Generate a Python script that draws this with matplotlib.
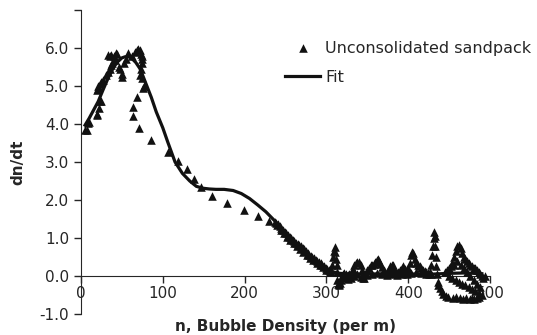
import matplotlib.pyplot as plt

obs_n = [5, 7, 9, 10, 19, 20, 22, 23, 25, 19, 21, 21, 23, 25, 27, 30, 33, 35, 37, 38,
         33, 35, 37, 40, 43, 44, 41, 46, 48, 50, 50, 52, 55, 58, 62, 66, 68, 70, 72, 73,
         74, 75, 74, 73, 72, 74, 76, 77, 69, 64, 64, 71, 86, 106, 118, 129, 138, 147, 160, 179,
         199, 216, 230,
         237, 239, 241, 243, 245, 247, 249, 251, 253, 255, 257, 259, 261, 263, 265, 267, 269, 271,
         273, 275, 277, 279, 281, 283, 285, 287, 289, 291, 293, 295, 297, 299, 301, 303, 305,
         240, 244, 248, 252, 256, 260, 264, 268, 272, 276, 280, 284, 288, 292, 296, 300, 304,
         306, 307, 308, 309, 310, 311, 312, 313, 313, 313, 314, 315, 316, 317, 318, 319, 320, 322,
         324, 326, 328, 330, 332, 334, 336, 338, 340, 342, 343, 344, 345, 346, 348, 350, 352, 354,
         356, 358, 360, 362, 363, 364, 366, 368, 370, 372, 374, 376, 378, 380, 381, 382, 384, 386,
         388, 390, 392, 394, 396, 398, 400, 402, 404, 405, 406, 408, 410, 412, 414, 416, 418, 420,
         422, 424, 426, 427, 428, 429, 430, 431, 432, 433, 433, 434, 434, 435, 436, 437, 439, 441,
         443, 446, 449, 455, 459, 463, 467, 471, 475, 478, 481, 484, 487, 490,
         445, 448, 450, 452, 454, 456, 458, 460, 462, 464, 466, 468, 470, 472, 474, 476, 478, 480,
         482, 484, 486, 488, 490, 492, 494,
         450, 454, 458, 462, 466, 470, 474, 478, 482, 486,
         456, 460, 464, 468, 472, 476, 480, 484, 488,
         322, 326, 330, 334, 338, 342, 350, 356, 362, 368, 374, 380, 386, 392, 398, 404, 410, 416,
         422, 428]
obs_v = [3.84, 3.84, 4.02, 4.05, 4.24, 4.26, 4.42, 4.6, 4.6, 4.9, 4.95, 5.0, 5.05, 5.1, 5.16, 5.3,
         5.38, 5.45, 5.55, 5.6,
         5.82, 5.78, 5.82, 5.8, 5.86, 5.84, 5.68, 5.5, 5.46, 5.25, 5.32, 5.6, 5.7, 5.86, 5.8, 5.9,
         5.95, 5.97, 5.95, 5.85,
         5.8, 5.7, 5.6, 5.46, 5.3, 5.2, 4.94, 5.0, 4.72, 4.46, 4.2, 3.89, 3.58, 3.27, 3.03, 2.81,
         2.54, 2.33, 2.1, 1.91,
         1.74, 1.57, 1.45,
         1.43, 1.40, 1.36, 1.31, 1.26, 1.22, 1.17, 1.13, 1.08, 1.03, 0.99, 0.95, 0.91, 0.88, 0.85,
         0.82, 0.79, 0.74,
         0.70, 0.65, 0.61, 0.56, 0.53, 0.50, 0.47, 0.43, 0.40, 0.37, 0.33, 0.30, 0.26, 0.22, 0.18,
         0.15, 0.12,
         1.33, 1.22, 1.12, 1.03, 0.94, 0.86, 0.79, 0.72, 0.64, 0.56, 0.48, 0.41, 0.35, 0.29, 0.23,
         0.16, 0.10,
         0.15, 0.3, 0.5, 0.65, 0.77, 0.62, 0.45, 0.3, 0.1, -0.1, -0.2, -0.25, -0.22, -0.18, -0.1,
         0.0, 0.05, 0.08,
         0.04, 0.02, 0.05, 0.08, 0.18, 0.28, 0.33, 0.36, 0.38, 0.3, 0.15, 0.02, -0.05, -0.04, 0.05,
         0.15, 0.22, 0.28,
         0.3, 0.32, 0.36, 0.42, 0.44, 0.4, 0.32, 0.24, 0.15, 0.08, 0.1, 0.18, 0.25, 0.28, 0.29, 0.22,
         0.12, 0.08,
         0.1, 0.15, 0.2, 0.25, 0.18, 0.12, 0.2, 0.35, 0.55, 0.64, 0.6, 0.45, 0.35, 0.3, 0.25, 0.2,
         0.15, 0.12,
         0.1, 0.08, 0.05, 0.1, 0.3, 0.55, 0.8, 1.0, 1.17, 1.05, 0.8, 0.5, 0.25, 0.05, -0.15, -0.25,
         -0.32, -0.4,
         -0.47, -0.52, -0.55, -0.58, -0.55, -0.58, -0.6, -0.57, -0.6, -0.58, -0.6, -0.57, -0.55, -0.5,
         0.1, 0.15, 0.2, 0.25, 0.35, 0.5, 0.65, 0.78, 0.82, 0.75, 0.6, 0.5, 0.45, 0.4, 0.35, 0.3,
         0.25, 0.22,
         0.2, 0.15, 0.1, 0.05, 0.0, -0.05, 0.0,
         0.0, -0.05, -0.1, -0.15, -0.2, -0.25, -0.3, -0.35, -0.4, -0.45,
         0.3, 0.4, 0.3, 0.2, 0.1, 0.0, -0.1, -0.2, -0.3,
         -0.05, -0.08, -0.05, 0.0, 0.05, -0.02, 0.02, 0.05, 0.08, 0.05, 0.02, 0.05, 0.03, 0.05,
         0.04, 0.08, 0.1, 0.08,
         0.04, 0.05]

# fitted curve
fit_n = [5, 10, 15, 21, 27, 33, 40, 45, 50, 54, 58, 62, 67, 72, 76, 80, 86, 92, 100, 106,
         115, 124, 133, 141, 149, 157, 165, 175, 186, 196, 206, 216, 226, 236, 246, 256, 266,
         276, 286, 296, 306, 316, 330, 350, 370, 390, 410, 430, 450, 470, 490]
fit_v = [3.97, 4.15, 4.35, 4.59, 4.9, 5.2, 5.5, 5.64, 5.74, 5.77, 5.77, 5.73, 5.62, 5.46, 5.25,
         5.03, 4.7, 4.32, 3.9, 3.53, 3.0, 2.7, 2.5, 2.36, 2.31, 2.29, 2.28, 2.28, 2.25, 2.17, 2.04,
         1.87, 1.69, 1.47, 1.22, 0.98, 0.76, 0.56, 0.38, 0.23, 0.12, 0.07, 0.05, 0.05, 0.06, 0.06,
         0.05, 0.05, 0.07, 0.08, 0.06]

y_ticks = [-1, 0, 1, 2, 3, 4, 5, 6, 7]
y_labels = ['-1.0', '0.0', '1.0', '2.0', '3.0', '4.0', '5.0', '6.0', '']
x_ticks = [0, 100, 200, 300, 400, 500]

plt.rcParams['font.family'] = 'DejaVu Sans'
txt = '#262626'

fig = plt.figure(figsize=(5.37, 3.35), dpi=100)
ax = fig.add_axes([0.1508, 0.0627, 0.7617, 0.9074])

ax.scatter(obs_n, obs_v, marker='^', s=38, color='#111111', linewidths=0,
           label='Unconsolidated sandpack', zorder=3)
ax.plot(fit_n, fit_v, color='#111111', lw=2.3, label='Fit', zorder=2)

ax.set_xlim(0, 500)
ax.set_ylim(-1, 7)
ax.spines['top'].set_visible(False)
ax.spines['right'].set_visible(False)
ax.spines['bottom'].set_position(('data', 0))
ax.set_yticks(y_ticks)
ax.set_yticklabels(y_labels)
ax.set_xticks(x_ticks)
ax.tick_params(axis='both', labelsize=11, colors=txt, length=5, width=1)
ax.tick_params(axis='x', pad=2)
for s in ['left', 'bottom']:
    ax.spines[s].set_color(txt)

ax.set_xlabel('n, Bubble Density (per m)', fontsize=11, fontweight='bold', color=txt)
ax.xaxis.set_label_coords(0.5, -0.04)
ax.xaxis.label.set_va('center')
ax.set_ylabel('dn/dt', fontsize=11, fontweight='bold', color=txt)
ax.yaxis.set_label_coords(-0.135, 0.5)

ax.legend(loc='upper left', bbox_to_anchor=(0.504, 0.922), bbox_transform=fig.transFigure,
          frameon=False, fontsize=11.5, handlelength=2.2, handletextpad=0.3,
          labelspacing=0.9, labelcolor=txt)

fig.savefig('out.png', dpi=100)
